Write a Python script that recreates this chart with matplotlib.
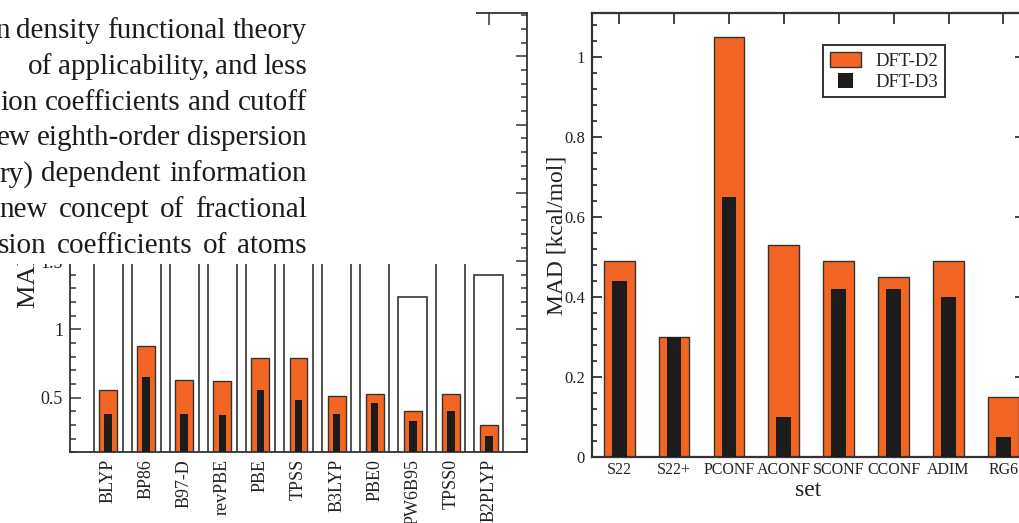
import numpy as np
import matplotlib.pyplot as plt
from matplotlib.patches import Rectangle
from matplotlib.legend_handler import HandlerPatch
from matplotlib.ticker import MultipleLocator, FuncFormatter

plt.rcParams['font.family'] = ['Liberation Serif', 'DejaVu Serif']

# paper text sitting over the upper part of the left figure
text_lines = [
    "n density functional theory",
    "of applicability, and less",
    "ion coefficients and cutoff",
    "ew eighth-order dispersion",
    "ry) dependent information",
    "new concept of fractional",
    "sion coefficients of atoms",
]
text_left = [-5, 28, 0, -3, -1, -1, -2]   # where each (justified) line starts, px

# left panel: functionals (plain DFT / DFT-D2 / DFT-D3)
funcs = ["BLYP", "BP86", "B97-D", "revPBE", "PBE", "TPSS", "B3LYP",
         "PBE0", "PW6B95", "TPSS0", "B2PLYP"]
mad_plain = [3.6, 3.9, 3.5, 4.1, 2.9, 3.4, 3.7, 2.6, 1.24, 3.2, 1.40]  # mostly hidden
mad_d2_f = [0.56, 0.88, 0.63, 0.62, 0.79, 0.79, 0.51, 0.53, 0.40, 0.53, 0.30]
mad_d3_f = [0.38, 0.65, 0.38, 0.37, 0.56, 0.48, 0.38, 0.46, 0.33, 0.40, 0.22]

# right panel: benchmark sets
sets = ["S22", "S22+", "PCONF", "ACONF", "SCONF", "CCONF", "ADIM", "RG6"]
mad_d2 = [0.49, 0.30, 1.05, 0.53, 0.49, 0.45, 0.49, 0.15]
mad_d3 = [0.44, 0.30, 0.65, 0.10, 0.42, 0.42, 0.40, 0.05]

ORANGE = '#F26522'
DARK = '#1c1c1c'
EDGE = '#333333'
TXT = '#222222'

W, H = 1019, 523
fig = plt.figure(figsize=(W / 100, H / 100), dpi=100)


def fmt(v, p):
    return f"{v:g}"


def fmt_low(v, p):
    # labels above 1.5 sit under the text block anyway
    return f"{v:g}" if v < 1.6 else ""


# ---------- left figure ----------
axl = fig.add_axes([70 / W, 1 - 452.3 / H, (527 - 70) / W, (452.3 - 12.7) / H])
x = np.arange(len(funcs))
axl.bar(x, mad_plain, width=0.76, color='white', edgecolor=EDGE, linewidth=1.2, zorder=1)
axl.bar(x, mad_d2_f, width=0.47, color=ORANGE, edgecolor=EDGE, linewidth=1.0, zorder=2)
axl.bar(x, mad_d3_f, width=0.2, color=DARK, linewidth=0, zorder=3)
axl.set_xlim(-1, 11)
axl.set_ylim(0.1, 3.32)
axl.set_xticks(x)
axl.set_xticklabels(funcs, rotation=90, fontsize=13, color=TXT)
axl.yaxis.set_major_locator(MultipleLocator(0.5))
axl.yaxis.set_minor_locator(MultipleLocator(0.1))
axl.yaxis.set_major_formatter(FuncFormatter(fmt_low))
axl.tick_params(axis='y', which='both', direction='in', left=True, right=True,
                width=1.1, color=EDGE)
axl.tick_params(axis='y', which='major', length=8, labelsize=13, labelcolor=TXT, pad=5)
axl.tick_params(axis='y', which='minor', length=4.5)
axl.tick_params(axis='x', direction='in', top=True, bottom=False, length=8.5,
                width=1.1, color=EDGE, pad=5)
axl.set_ylabel("MAD [kcal/mol]", fontsize=19, color=TXT)
axl.yaxis.set_label_coords(-0.066, 0.53)
for s in axl.spines.values():
    s.set_color(EDGE)
    s.set_linewidth(1.3)

# ---------- right figure ----------
axr = fig.add_axes([591.7 / W, 1 - 456.7 / H, (1025.4 - 591.7) / W, (456.7 - 13.3) / H])
xs = np.arange(len(sets))
axr.bar(xs, mad_d2, width=0.56, color=ORANGE, edgecolor=EDGE, linewidth=1.0, zorder=2)
axr.bar(xs, mad_d3, width=0.27, color=DARK, linewidth=0, zorder=3)
axr.set_xlim(-0.5, 7.4)
axr.set_ylim(0, 1.11)
axr.set_xticks(xs)
axr.set_xticklabels(sets, fontsize=11.5, color=TXT)
axr.yaxis.set_major_locator(MultipleLocator(0.2))
axr.yaxis.set_minor_locator(MultipleLocator(0.04))
axr.yaxis.set_major_formatter(FuncFormatter(fmt))
axr.tick_params(axis='y', which='both', direction='in', left=True, right=True,
                width=1.3, color=EDGE)
axr.tick_params(axis='y', which='major', length=7.5, labelsize=12, labelcolor=TXT, pad=5)
axr.tick_params(axis='y', which='minor', length=3.8)
axr.tick_params(axis='x', direction='in', top=True, bottom=False, length=8,
                width=1.3, color=EDGE, pad=4)
axr.set_ylabel("MAD [kcal/mol]", fontsize=17, color=TXT)
axr.yaxis.set_label_coords(-0.055, 0.5)
axr.set_xlabel("set", fontsize=17, color=TXT, labelpad=1)
for s in axr.spines.values():
    s.set_color(EDGE)
    s.set_linewidth(1.6)


class BarHandle(HandlerPatch):
    def __init__(self, frac):
        super().__init__()
        self.frac = frac

    def create_artists(self, legend, orig_handle, xdescent, ydescent,
                       width, height, fontsize, trans):
        w = width * self.frac
        r = Rectangle((-xdescent + (width - w) / 2, -ydescent), w, height,
                      facecolor=orig_handle.get_facecolor(),
                      edgecolor=orig_handle.get_edgecolor(),
                      linewidth=orig_handle.get_linewidth(), transform=trans)
        return [r]


h2 = Rectangle((0, 0), 1, 1, facecolor=ORANGE, edgecolor=EDGE, linewidth=1.0)
h3 = Rectangle((0, 0), 1, 1, facecolor=DARK, edgecolor='none', linewidth=0)
leg = axr.legend([h2, h3], ["DFT-D2", "DFT-D3"], loc='upper left',
                 bbox_to_anchor=((823 - 591.7) / (1025.4 - 591.7), (456.7 - 45) / (456.7 - 13.3)),
                 borderaxespad=0, fontsize=13.5, fancybox=False, framealpha=1,
                 handlelength=1.7, handleheight=0.9, handletextpad=0.75,
                 borderpad=0.35, labelspacing=0.15,
                 handler_map={h2: BarHandle(1.0), h3: BarHandle(0.5)})
leg.get_frame().set_edgecolor(EDGE)
leg.get_frame().set_linewidth(1.4)
for t in leg.get_texts():
    t.set_color(TXT)

# ---------- text block covering the top of the left figure ----------
fig.add_artist(Rectangle((0, 1 - 264 / H), 476 / W, 264 / H, transform=fig.transFigure,
                         facecolor='white', edgecolor='none', zorder=10))
renderer = fig.canvas.get_renderer()
RIGHT = 307
for i, (line, x0) in enumerate(zip(text_lines, text_left)):
    y = 1 - (38 + 35.8 * i) / H
    words = line.split()
    ts = [fig.text(0, y, w, ha='left', va='baseline', fontsize=21,
                   color='#1e1b1c', zorder=11) for w in words]
    widths = [t.get_window_extent(renderer).width for t in ts]
    gap = (RIGHT - x0 - sum(widths)) / (len(words) - 1)
    pos = x0
    for t, wd in zip(ts, widths):
        t.set_x(pos / W)
        pos += wd + gap

fig.savefig('out.png', dpi=100)
